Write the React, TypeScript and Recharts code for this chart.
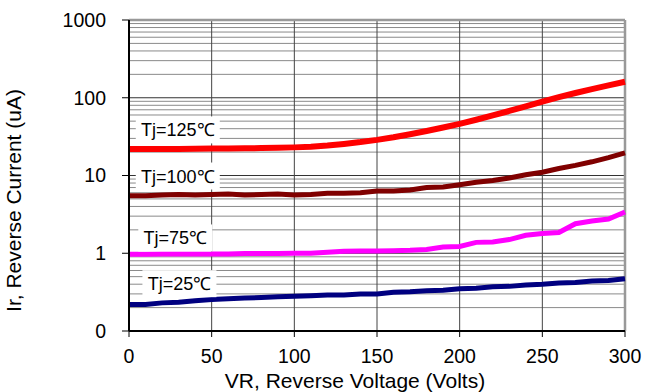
import React from 'react';
import {
  LineChart,
  Line,
  XAxis,
  YAxis,
  ReferenceLine,
  ReferenceDot,
  Label,
} from 'recharts';

// reverse voltage steps (V)
const voltage = [
  0, 10, 20, 30, 40, 50, 60, 70, 80, 90, 100, 110, 120, 130, 140, 150,
  160, 170, 180, 190, 200, 210, 220, 230, 240, 250, 260, 270, 280, 290, 300,
];

// reverse current (uA) per junction temperature
const ir125 = [
  22, 22, 22, 22, 22.1, 22.2, 22.3, 22.4, 22.5, 22.7, 23, 23.5, 24.3, 25.5, 26.9, 28.7,
  31, 33.9, 37.3, 41.4, 46.2, 52.1, 59.2, 67.6, 77.6, 89.3, 101.9, 115.1, 129.1, 144.2, 160.7,
];
const ir100 = [
  5.5, 5.5, 5.6, 5.7, 5.6, 5.7, 5.8, 5.6, 5.7, 5.8, 5.6, 5.7, 5.9, 5.9, 6.0, 6.3,
  6.3, 6.5, 7.0, 7.1, 7.6, 8.2, 8.6, 9.3, 10.2, 11.0, 12.3, 13.5, 15.0, 17.0, 19.5,
];
const ir75 = [
  0.97, 0.97, 0.98, 0.98, 0.98, 0.98, 0.98, 0.99, 0.99, 0.99, 1.0, 1.0, 1.03, 1.06, 1.07, 1.07,
  1.08, 1.09, 1.12, 1.2, 1.22, 1.38, 1.4, 1.5, 1.7, 1.8, 1.85, 2.4, 2.6, 2.75, 3.4,
];
const ir25 = [
  0.22, 0.22, 0.23, 0.235, 0.245, 0.255, 0.26, 0.265, 0.27, 0.275, 0.28, 0.285, 0.29, 0.29, 0.3, 0.3,
  0.315, 0.32, 0.33, 0.335, 0.35, 0.355, 0.37, 0.375, 0.39, 0.4, 0.415, 0.42, 0.44, 0.445, 0.47,
];

const xTicks = [0, 50, 100, 150, 200, 250, 300];
const xGrid = [50, 100, 150, 200, 250];
const yTicks = [0.1, 1, 10, 100, 1000];
const yMajor = [1, 10, 100];
const yMinor = [
  0.2, 0.3, 0.4, 0.5, 0.6, 0.7, 0.8, 0.9,
  2, 3, 4, 5, 6, 7, 8, 9,
  20, 30, 40, 50, 60, 70, 80, 90,
  200, 300, 400, 500, 600, 700, 800, 900,
];

// curve labels, placed in data coordinates
const curveLabels = [
  { text: 'Tj=125℃', x: 29.5, y: 38 },
  { text: 'Tj=100℃', x: 29.5, y: 9.7 },
  { text: 'Tj=75℃', x: 28, y: 1.55 },
  { text: 'Tj=25℃', x: 30.5, y: 0.4 },
];

const data = voltage.map((v, i) => ({
  v,
  t125: ir125[i],
  t100: ir100[i],
  t75: ir75[i],
  t25: ir25[i],
}));

const FONT = 'Arial, "Liberation Sans", Helvetica, sans-serif';

const BoxLabel = ({ cx, cy, text }: any) => {
  const w = text.length * 10 + 14;
  return (
    <g>
      <rect x={cx - w / 2} y={cy - 14} width={w} height={27} fill="#fff" />
      <text
        x={cx}
        y={cy}
        textAnchor="middle"
        dominantBaseline="central"
        fontSize={18}
        fontFamily={FONT}
        fill="#000"
      >
        {text}
      </text>
    </g>
  );
};

const App = () => {
  return (
    <div style={{ position: 'absolute', left: 0, top: 0, background: '#fff' }}>
      <LineChart
        width={660}
        height={392}
        data={data}
        margin={{ top: 20, right: 35, left: 0, bottom: 0 }}
      >
        <XAxis
          dataKey="v"
          type="number"
          domain={[0, 300]}
          ticks={xTicks}
          height={61}
          tickSize={6}
          tickMargin={12}
          axisLine={{ stroke: '#000', strokeWidth: 2 }}
          tickLine={{ stroke: '#000' }}
          tick={{ fontSize: 19.5, fontFamily: FONT, fill: '#000' }}
        >
          <Label
            value="VR, Reverse Voltage (Volts)"
            position="insideBottom"
            offset={4}
            dx={-22}
            style={{ fontSize: 21, fontFamily: FONT, fill: '#000' }}
          />
        </XAxis>
        <YAxis
          scale="log"
          domain={[0.1, 1000]}
          ticks={yTicks}
          allowDataOverflow
          width={129}
          tickSize={7}
          tickMargin={16}
          tickFormatter={(t: number) => (t < 1 ? '0' : String(t))}
          axisLine={{ stroke: '#000', strokeWidth: 2 }}
          tickLine={{ stroke: '#000' }}
          tick={{ fontSize: 19.5, fontFamily: FONT, fill: '#000' }}
        >
          <Label
            value="Ir, Reverse Current (uA)"
            angle={-90}
            position="insideLeft"
            offset={14}
            dy={25}
            style={{ fontSize: 21, fontFamily: FONT, fill: '#000', textAnchor: 'middle' }}
          />
        </YAxis>
        {yMinor.map((v) => (
          <ReferenceLine key={'m' + v} y={v} stroke="#8a8a8a" strokeWidth={1} />
        ))}
        {yMajor.map((v) => (
          <ReferenceLine key={'M' + v} y={v} stroke="#333" strokeWidth={1} />
        ))}
        {xGrid.map((v) => (
          <ReferenceLine key={'x' + v} x={v} stroke="#444" strokeWidth={1} />
        ))}
        <ReferenceLine y={1000} stroke="#999" strokeWidth={2.5} />
        <ReferenceLine x={300} stroke="#999" strokeWidth={2.5} />
        {curveLabels.map((l) => (
          <ReferenceDot
            key={l.text}
            x={l.x}
            y={l.y}
            r={0}
            shape={(p: any) => <BoxLabel {...p} text={l.text} />}
          />
        ))}
        <Line dataKey="t125" stroke="#ff0000" strokeWidth={6} dot={false} isAnimationActive={false} />
        <Line dataKey="t100" stroke="#800000" strokeWidth={5} dot={false} isAnimationActive={false} />
        <Line dataKey="t75" stroke="#ff00ff" strokeWidth={5} dot={false} isAnimationActive={false} />
        <Line dataKey="t25" stroke="#000080" strokeWidth={5} dot={false} isAnimationActive={false} />
      </LineChart>
    </div>
  );
};

export default App;
